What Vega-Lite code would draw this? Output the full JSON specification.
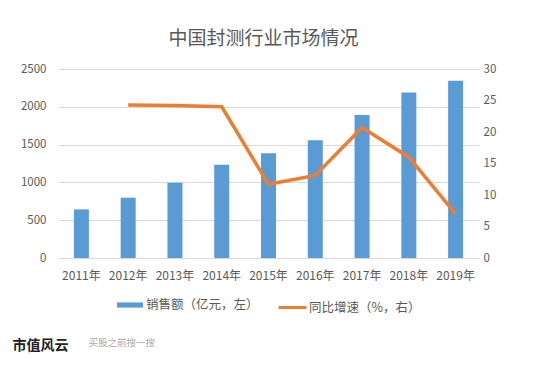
{
  "$schema": "https://vega.github.io/schema/vega-lite/v6.json",
  "width": 421,
  "height": 189,
  "padding": {"left": 12, "top": 29, "right": 40, "bottom": 10},
  "background": "white",
  "title": {
    "text": "市值风云",
    "subtitle": "\u200b\u3000\u3000\u3000\u3000\u3000\u3000\u3000\u3000买股之前搜一搜",
    "orient": "bottom",
    "anchor": "start",
    "frame": "bounds",
    "font": "Noto Sans CJK SC",
    "fontSize": 14,
    "fontWeight": "bold",
    "color": "#222222",
    "subtitleFont": "Noto Sans CJK SC",
    "subtitleFontSize": 9.5,
    "subtitleColor": "#aaaaaa",
    "subtitlePadding": -15,
    "offset": 25,
    "dx": -8
  },
  "data": {
    "values": [
      {"year": "2011年", "sales": 643, "growth": null},
      {"year": "2012年", "sales": 798, "growth": 24.3},
      {"year": "2013年", "sales": 996, "growth": 24.2},
      {"year": "2014年", "sales": 1234, "growth": 24.0},
      {"year": "2015年", "sales": 1384, "growth": 11.7},
      {"year": "2016年", "sales": 1556, "growth": 13.1},
      {"year": "2017年", "sales": 1892, "growth": 20.7},
      {"year": "2018年", "sales": 2190, "growth": 16.0},
      {"year": "2019年", "sales": 2343, "growth": 7.0}
    ]
  },
  "encoding": {
    "x": {
      "field": "year",
      "type": "nominal",
      "sort": null,
      "scale": {"paddingInner": 0, "paddingOuter": 0}
    }
  },
  "layer": [
    {
      "mark": {"type": "bar", "width": 15},
      "encoding": {
        "x": {
          "field": "year",
          "type": "nominal",
          "sort": null,
          "axis": {
            "orient": "bottom",
            "title": null,
            "labelAngle": 0,
            "ticks": false,
            "domain": false,
            "labelPadding": 12,
            "labelFontSize": 12,
            "labelColor": "#595959",
            "labelFont": "Noto Sans CJK SC"
          }
        },
        "y": {
          "field": "sales",
          "type": "quantitative",
          "scale": {"domain": [0, 2500], "nice": false},
          "axis": {
            "title": null,
            "values": [0, 500, 1000, 1500, 2000, 2500],
            "format": "d",
            "ticks": false,
            "domain": false,
            "grid": true,
            "gridColor": "#d9d9d9",
            "labelPadding": 12,
            "labelFontSize": 11.5,
            "labelColor": "#595959",
            "labelFont": "Noto Sans CJK SC"
          }
        },
        "fill": {
          "datum": "销售额（亿元，左）",
          "scale": {"range": ["#5B9BD5"]},
          "legend": {
            "title": null,
            "orient": "bottom",
            "direction": "horizontal",
            "symbolType": "M-1,-0.2H1V0.2H-1Z",
            "symbolSize": 676,
            "symbolStrokeWidth": 0,
            "labelFontSize": 12.5,
            "labelColor": "#595959",
            "labelFont": "Noto Sans CJK SC",
            "labelOffset": 3,
            "offset": 11
          }
        }
      }
    },
    {
      "mark": {"type": "line", "strokeWidth": 3.5, "color": "#ED7D31"},
      "encoding": {
        "x": {
          "field": "year",
          "type": "nominal",
          "sort": null,
          "axis": {
            "orient": "top",
            "labels": false,
            "ticks": false,
            "domain": false,
            "grid": false,
            "title": "中国封测行业市场情况",
            "titleFont": "Noto Sans CJK SC",
            "titleFontSize": 19,
            "titleFontWeight": "normal",
            "titleColor": "#595959",
            "titlePadding": 21,
            "titleX": 205
          }
        },
        "y": {
          "field": "growth",
          "type": "quantitative",
          "scale": {"domain": [0, 30], "nice": false},
          "axis": {
            "orient": "right",
            "title": null,
            "values": [0, 5, 10, 15, 20, 25, 30],
            "ticks": false,
            "domain": false,
            "grid": false,
            "labelPadding": 4,
            "labelFontSize": 11.5,
            "labelColor": "#595959",
            "labelFont": "Noto Sans CJK SC"
          }
        },
        "stroke": {
          "datum": "同比增速（%，右）",
          "scale": {"range": ["#ED7D31"]},
          "legend": {
            "title": null,
            "orient": "bottom",
            "direction": "horizontal",
            "symbolType": "M-1,0H1",
            "symbolSize": 784,
            "symbolStrokeWidth": 3,
            "labelFontSize": 12.5,
            "labelColor": "#595959",
            "labelFont": "Noto Sans CJK SC",
            "labelOffset": 1,
            "offset": 11
          }
        }
      }
    }
  ],
  "resolve": {
    "scale": {"y": "independent", "fill": "independent", "stroke": "independent"},
    "axis": {"x": "independent", "y": "independent"},
    "legend": {"fill": "independent", "stroke": "independent"}
  },
  "config": {
    "view": {"stroke": null},
    "legend": {"layout": {"bottom": {"anchor": "middle", "direction": "horizontal", "margin": 18}}}
  }
}
